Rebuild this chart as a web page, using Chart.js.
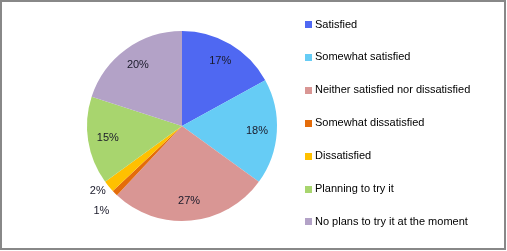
<!DOCTYPE html>
<html>
<head>
<meta charset="utf-8">
<script src="https://cdn.jsdelivr.net/npm/chart.js@4/dist/chart.umd.min.js"></script>
<style>
  html, body { margin: 0; padding: 0; background: #fff; }
  #wrap { width: 507px; height: 251px; position: relative; }
</style>
</head>
<body>
<div id="wrap"><canvas id="myChart" width="507" height="251"></canvas></div>
<script>
// data
const categories = ['Satisfied', 'Somewhat satisfied', 'Neither satisfied nor dissatisfied',
  'Somewhat dissatisfied', 'Dissatisfied', 'Planning to try it', 'No plans to try it at the moment'];
const values = [17, 18, 27, 1, 2, 15, 20];
const colours = ['#4F68F2', '#66CCF5', '#D99694', '#E46C0A', '#FFC000', '#A8D56E', '#B3A2C7'];

const FONT = '11px "Liberation Sans", Arial, sans-serif';

// percent labels + frame + legend drawn after the pie
const extras = {
  id: 'extras',
  afterDraw(chart) {
    const ctx = chart.ctx;
    const meta = chart.getDatasetMeta(0);
    const total = values.reduce((a, b) => a + b, 0);
    const labels = [];
    meta.data.forEach(function(arc, i) {
      const p = arc.getProps(['x', 'y', 'startAngle', 'endAngle', 'outerRadius'], true);
      const mid = (p.startAngle + p.endAngle) / 2;
      const pct = values[i] / total * 100;
      // small slices get their label outside
      const outside = pct < 5;
      const f = outside ? 1.1 + 0.1 / pct : 0.79;
      const r = p.outerRadius * f;
      labels.push({ text: Math.round(pct) + '%', x: p.x + Math.cos(mid) * r, y: p.y + Math.sin(mid) * r, outside: outside });
    });
    // push outside labels apart so they don't overlap
    const outs = labels.filter(l => l.outside).sort((a, b) => a.y - b.y);
    for (let k = 1; k < outs.length; k++) {
      const gap = outs[k].y - outs[k - 1].y;
      if (gap < 20) {
        const d = (20 - gap) / 2;
        outs[k].y += d;
        outs[k - 1].y -= d;
      }
    }
    ctx.save();
    ctx.font = FONT;
    ctx.fillStyle = '#1a1a2a';
    ctx.textAlign = 'center';
    ctx.textBaseline = 'middle';
    labels.forEach(l => ctx.fillText(l.text, l.x, l.y));

    // legend
    ctx.textAlign = 'left';
    categories.forEach(function(label, i) {
      const y = 24.5 + i * 32.9;
      ctx.fillStyle = colours[i];
      ctx.fillRect(305, Math.round(y - 3.5), 7, 7);
      ctx.fillStyle = '#000';
      ctx.fillText(label, 315, y);
    });

    // outer frame
    ctx.strokeStyle = '#888';
    ctx.lineWidth = 2;
    ctx.strokeRect(1, 1, 504, 248);
    ctx.restore();
  }
};

var myChart = new Chart(document.getElementById('myChart'), {
  type: 'pie',
  data: {
    labels: categories,
    datasets: [{
      data: values,
      backgroundColor: colours,
      borderWidth: 0
    }]
  },
  options: {
    responsive: false,
    animation: false,
    layout: { padding: { top: 31, bottom: 30, left: 87, right: 230 } },
    plugins: {
      legend: { display: false },
      tooltip: { enabled: false }
    }
  },
  plugins: [extras]
});
</script>
</body>
</html>
